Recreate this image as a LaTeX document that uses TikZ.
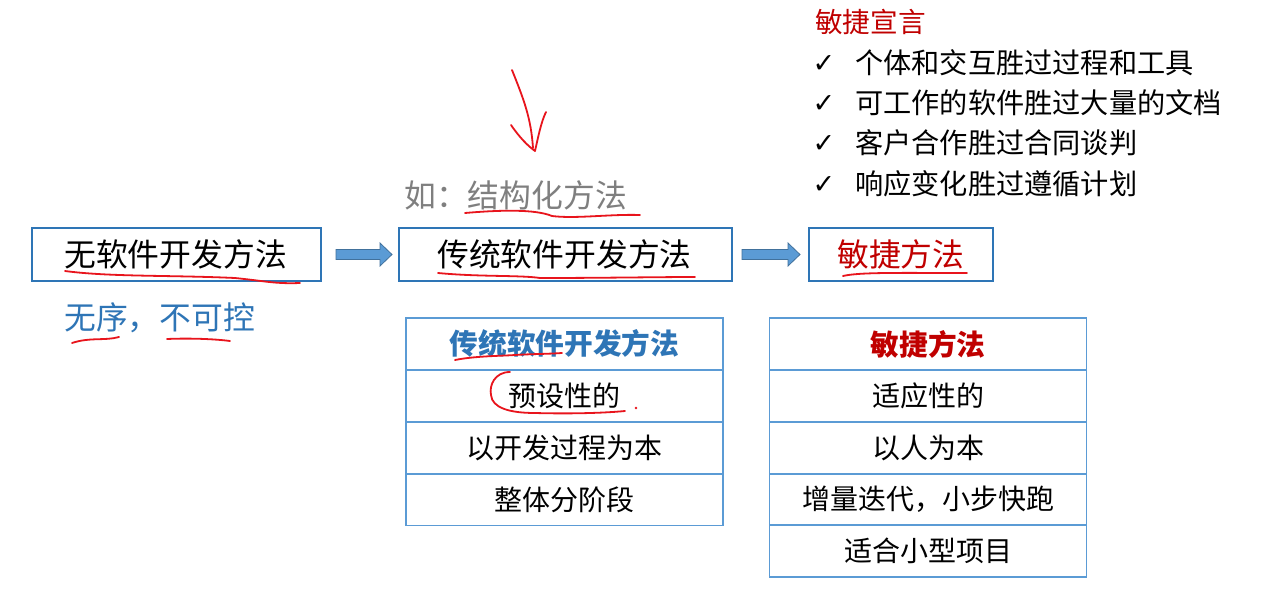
\documentclass[tikz,border=0pt]{standalone}
\usepackage{fontspec}
\setmainfont{Noto Sans CJK SC}
\newfontfamily\symfont{DejaVu Sans}
\definecolor{boxblue}{HTML}{2E75B6}
\definecolor{tblblue}{HTML}{5B9BD5}
\definecolor{arrfill}{HTML}{5B9BD5}
\definecolor{arrline}{HTML}{41719C}
\definecolor{darkred}{HTML}{C00000}
\definecolor{ink}{HTML}{E8141C}
\definecolor{txtblue}{HTML}{2E75B6}
\definecolor{greytxt}{HTML}{7F7F7F}
\begin{document}
\begin{tikzpicture}[x=1pt,y=-1pt,
  big/.style={font=\fontsize{31.8}{32}\selectfont, inner sep=0pt},
  mid/.style={font=\fontsize{28.2}{28}\selectfont, inner sep=0pt},
  mainbox/.style={draw=boxblue, line width=2pt, minimum height=53pt, inner sep=0pt},
  cell/.style={draw=tblblue, line width=1.8pt, minimum height=52pt, minimum width=317pt, inner sep=0pt, font=\fontsize{28}{28}\selectfont},
  blockarrow/.style={fill=arrfill, draw=arrline, line width=0.8pt},
  inkline/.style={draw=ink, line width=1.8pt, line cap=round, line join=round},
  chk/.style={font=\symfont\fontsize{27}{27}\selectfont, inner sep=0pt}
]
\useasboundingbox[fill=white] (0,0) rectangle (1280,589);

% top boxes
\node[mainbox, minimum width=289pt] (b1) at (176.5,254.5) {};
\node[big, anchor=west] (t1) at (64,254) {无软件开发方法};
\node[mainbox, minimum width=333pt] (b2) at (565.5,254.5) {};
\node[big, anchor=west] (t2) at (437,254) {传统软件开发方法};
\node[mainbox, minimum width=184pt] (b3) at (901,254.5) {};
\node[big, anchor=west, text=darkred] (t3) at (837,254) {敏捷方法};

% block arrows
\draw[blockarrow] (336,249.5) -- (380,249.5) -- (380,243) -- (392,254.5) -- (380,266) -- (380,259.5) -- (336,259.5) -- cycle;
\draw[blockarrow] (742,249.5) -- (788,249.5) -- (788,243) -- (800,254.5) -- (788,266) -- (788,259.5) -- (742,259.5) -- cycle;

% side texts
\node[big, anchor=west, text=txtblue] (dis) at (64,318) {无序，不可控};
\node[big, anchor=west, text=greytxt] (eg) at (404,195) {如：结构化方法};

% agile manifesto
\node[mid, anchor=west, text=darkred, font=\fontsize{27.6}{28}\selectfont] (man) at (815,22) {敏捷宣言};
\node[chk] (c1) at (824,64) {✓};
\node[mid, anchor=west] (m1) at (855,63) {个体和交互胜过过程和工具};
\node[chk] (c2) at (824,104) {✓};
\node[mid, anchor=west] (m2) at (855,103) {可工作的软件胜过大量的文档};
\node[chk] (c3) at (824,144) {✓};
\node[mid, anchor=west] (m3) at (855,143) {客户合作胜过合同谈判};
\node[chk] (c4) at (824,185) {✓};
\node[mid, anchor=west] (m4) at (855,184) {响应变化胜过遵循计划};

% table 1
\node[cell, text=txtblue, font=\fontsize{28.7}{29}\selectfont\bfseries] (a0) at (564.5,344) {\raisebox{2.5pt}{传统软件开发方法}};
\node[cell] (a1) at (564.5,396) {\raisebox{2.5pt}{预设性的}};
\node[cell] (a2) at (564.5,448) {\raisebox{2.5pt}{以开发过程为本}};
\node[cell] (a3) at (564.5,499.5) {\raisebox{2.5pt}{整体分阶段}};

% table 2
\node[cell, text=darkred, font=\fontsize{28.7}{29}\selectfont\bfseries] (g0) at (928,344) {\raisebox{2.5pt}{敏捷方法}};
\node[cell] (g1) at (928,396) {\raisebox{2.5pt}{适应性的}};
\node[cell] (g2) at (928,448) {\raisebox{2.5pt}{以人为本}};
\node[cell] (g3) at (928,499.5) {\raisebox{2.5pt}{增量迭代，小步快跑}};
\node[cell] (g4) at (928,551) {\raisebox{2.5pt}{适合小型项目}};

% red hand-drawn annotations
\draw[inkline] (65,271) .. controls (110,277) and (170,275) .. (235,278) .. controls (265,281) and (275,284) .. (300,283);
\draw[inkline] (72,343) .. controls (90,337) and (105,341) .. (119,337);
\draw[inkline] (167,339) .. controls (190,338) and (215,339) .. (230,341);
\draw[inkline] (512,70) .. controls (524,100) and (531,118) .. (533,148);
\draw[inkline] (511,125) .. controls (520,138) and (528,146) .. (535,151) .. controls (538,138) and (541,122) .. (546,112);
\draw[inkline] (465,213) .. controls (500,210) and (535,209) .. (552,216) .. controls (575,219) and (610,214) .. (640,215);
\draw[inkline] (438,273) .. controls (480,277) and (520,275) .. (540,278) .. controls (600,278) and (660,277) .. (695,277);
\draw[inkline] (843,276) .. controls (860,272) and (900,273) .. (967,273);
\draw[inkline] (455,360) .. controls (475,356) and (500,356) .. (515,355) .. controls (530,354) and (548,354) .. (562,353);
\draw[inkline] (510,372) .. controls (495,372) and (489,385) .. (491,395) .. controls (492,408) and (510,413) .. (535,413) .. controls (570,414) and (605,413) .. (625,411);
\fill[ink] (636,408) circle (1.3pt);
\end{tikzpicture}
\end{document}
